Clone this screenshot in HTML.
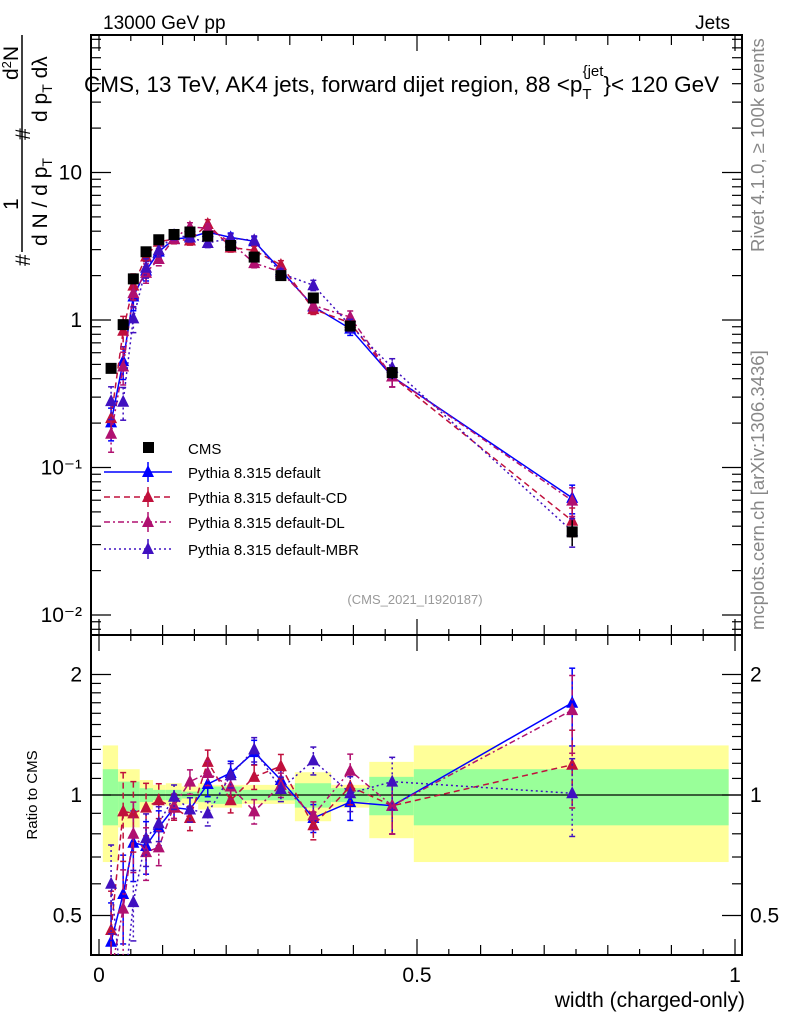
<!DOCTYPE html>
<html><head><meta charset="utf-8"><style>
html,body{margin:0;padding:0;background:#fff;}
svg{display:block;font-family:"Liberation Sans",Arial,sans-serif;}
</style></head><body>
<svg id="c" width="786" height="1024" viewBox="0 0 786 1024">
<g id="bands"></g>
<g id="grid"></g>
<g id="series"></g>
<text x="103" y="29" font-size="19">13000 GeV pp</text>
<text x="730" y="29" font-size="19" text-anchor="end">Jets</text>
<text x="84" y="92" font-size="22.5">CMS, 13 TeV, AK4 jets, forward dijet region, 88 &lt;p<tspan font-size="15" dy="7">T</tspan><tspan font-size="15" dx="-9" dy="-23">{jet</tspan><tspan dy="16">}&lt; 120 GeV</tspan></text>
<text x="415" y="604" font-size="13" fill="#999" text-anchor="middle">(CMS_2021_I1920187)</text>
<text transform="translate(764,252) rotate(-90)" font-size="18.5" fill="#888">Rivet 4.1.0, ≥ 100k events</text>
<text transform="translate(764,630) rotate(-90)" font-size="18.5" fill="#888">mcplots.cern.ch [arXiv:1306.3436]</text>
<text transform="translate(37,955) rotate(-90)" font-size="15" text-anchor="middle"><tspan x="160">Ratio to CMS</tspan></text>
<text x="745" y="1007" font-size="21" text-anchor="end">width (charged-only)</text>
<g font-size="21">
<line x1="22" y1="35" x2="22" y2="252" stroke="#000" stroke-width="1.5"/>
<text transform="translate(30,266) rotate(-90)">#</text>
<text transform="translate(18,210) rotate(-90)">1</text>
<text transform="translate(47,246) rotate(-90)">d N / d p<tspan font-size="14" dy="5">T</tspan></text>
<text transform="translate(30,140) rotate(-90)">#</text>
<text transform="translate(18,80) rotate(-90)">d<tspan font-size="13" dy="-7">2</tspan><tspan dy="7">N</tspan></text>
<text transform="translate(47,122) rotate(-90)">d p<tspan font-size="14" dy="5">T</tspan><tspan dy="-5"> dλ</tspan></text>
</g>
<g id="legend"></g>
</svg>
<script>
const xs = [0.019,0.038,0.054,0.074,0.094,0.118,0.143,0.171,0.207,0.244,0.286,0.337,0.395,0.461,0.744];
const cmsVals = [0.47,0.93,1.9,2.9,3.5,3.8,3.95,3.7,3.2,2.67,2.0,1.41,0.91,0.44,0.0366];
const cmsErr = [0.05,0.05,0.05,0.05,0.05,0.05,0.05,0.05,0.05,0.05,0.05,0.05,0.06,0.1,0.2];
const ratioDefault = [0.43,0.566,0.76,0.746,0.83,0.93,0.92,1.065,1.135,1.28,1.09,0.876,0.96,0.94,1.70];
const ratioCD = [0.46,0.91,0.9,0.93,0.97,0.93,0.876,1.21,0.97,1.11,1.18,0.84,1.05,0.94,1.19];
const ratioDL = [0.36,0.52,0.8,0.72,0.74,0.94,1.08,1.135,1.05,0.91,1.06,0.89,1.15,0.94,1.63];
const ratioMBR = [0.6,0.3,0.54,0.78,0.85,0.99,0.92,0.9,1.12,1.3,1.035,1.22,1.01,1.08,1.01];
const modelErr = [0.25,0.25,0.2,0.15,0.1,0.07,0.07,0.07,0.07,0.07,0.07,0.08,0.1,0.15,0.22];
const bandEdges = [0.006,0.03,0.064,0.085,0.105,0.13,0.156,0.176,0.225,0.308,0.365,0.425,0.495,0.99];
const bandYellowHi = [1.33,1.16,1.09,1.06,1.07,1.05,1.07,1.06,1.06,1.14,1.06,1.21,1.33];
const bandYellowLo = [0.68,0.83,0.92,0.95,0.94,0.95,0.92,0.93,0.95,0.86,0.93,0.78,0.68];
const bandGreenHi = [1.16,1.08,1.04,1.03,1.03,1.02,1.04,1.05,1.03,1.07,1.04,1.11,1.16];
const bandGreenLo = [0.84,0.91,0.96,0.97,0.97,0.98,0.96,0.95,0.97,0.93,0.96,0.89,0.84];
const mainTicks = [["10⁻²",0.01],["10⁻¹",0.1],["1",1],["10",10]];
const ratioTicks = [["0.5",0.5],["1",1],["2",2]];
const xTicks = [["0",0],["0.5",0.5],["1",1]];

const NS="http://www.w3.org/2000/svg";
const L=91,R=742,MT=35,MB=635,RB=955;
const X=v=>99+v*636;
const Y=v=>320-Math.log10(v)*147.5;
const RY=v=>795-Math.log2(v)*120.5;
function mk(p,tag,a){const e=document.createElementNS(NS,tag);for(const k in a)e.setAttribute(k,a[k]);p.appendChild(e);return e;}
const G=document.getElementById('grid'),B=document.getElementById('bands'),S=document.getElementById('series'),LG=document.getElementById('legend');

for(let i=0;i<bandYellowHi.length;i++){
  const x0=X(bandEdges[i]),x1=X(bandEdges[i+1]);
  let r=mk(B,'rect',{x:x0,y:RY(bandYellowHi[i]),width:x1-x0,height:RY(bandYellowLo[i])-RY(bandYellowHi[i]),fill:'#ffff99'});
  
  
  let g=mk(B,'rect',{x:x0,y:RY(bandGreenHi[i]),width:x1-x0,height:RY(bandGreenLo[i])-RY(bandGreenHi[i]),fill:'#99ff99'});
  
  
}
mk(G,'line',{x1:L,x2:R,y1:RY(1),y2:RY(1),stroke:'#000','stroke-width':1.2});
mk(G,'rect',{x:L,y:MT,width:R-L,height:MB-MT,fill:'none',stroke:'#000','stroke-width':2});
mk(G,'rect',{x:L,y:MB,width:R-L,height:RB-MB,fill:'none',stroke:'#000','stroke-width':2});
for(let k=0;k<=20;k++){const v=k*0.05,x=X(v);const len=k%10==0?16:(k%2==0?10:6);
  [[MT,1],[MB,-1],[MB,1],[RB,-1]].forEach(([y,d])=>mk(G,'line',{x1:x,x2:x,y1:y,y2:y+d*len,stroke:'#000','stroke-width':1.2}));}
xTicks.forEach(([t,v])=>{const e=mk(G,'text',{x:X(v),y:982,'font-size':21,'text-anchor':'middle'});e.textContent=t;
  
  });
for(let d=-3;d<=1;d++)for(let m=1;m<=9;m++){const v=m*Math.pow(10,d),y=Y(v);if(y<MT||y>MB)continue;const len=m==1?20:10;
  mk(G,'line',{x1:L,x2:L+len,y1:y,y2:y,stroke:'#000','stroke-width':1.2});
  mk(G,'line',{x1:R,x2:R-len,y1:y,y2:y,stroke:'#000','stroke-width':1.2});}
mainTicks.forEach(([t,v])=>{const e=mk(G,'text',{x:82,y:Y(v)+7,'font-size':21,'text-anchor':'end'});e.textContent=t;
  
  });
[0.5,0.6,0.7,0.8,0.9,1,1.1,1.2,1.3,1.4,1.5,1.6,1.7,1.8,1.9,2].forEach(v=>{const y=RY(v);const len=(v==0.5||v==1||v==2)?20:10;
  mk(G,'line',{x1:L,x2:L+len,y1:y,y2:y,stroke:'#000','stroke-width':1.2});
  mk(G,'line',{x1:R,x2:R-len,y1:y,y2:y,stroke:'#000','stroke-width':1.2});});
ratioTicks.forEach(([t,v])=>{let e=mk(G,'text',{x:82,y:RY(v)+7,'font-size':21,'text-anchor':'end'});e.textContent=t;
  
  
  e=mk(G,'text',{x:750,y:RY(v)+7,'font-size':21});e.textContent=t;
  
  });

const clipM=mk(S,'clipPath',{id:'cm'});mk(clipM,'rect',{x:L,y:MT,width:R-L,height:MB-MT});
const clipR=mk(S,'clipPath',{id:'cr'});mk(clipR,'rect',{x:L,y:MB,width:R-L,height:RB-MB});
const models=[
 {name:'Pythia 8.315 default',r:ratioDefault,c:'#0000ff',dash:''},
 {name:'Pythia 8.315 default-CD',r:ratioCD,c:'#c0103c',dash:'6,4'},
 {name:'Pythia 8.315 default-DL',r:ratioDL,c:'#b01070',dash:'6,3,2,3'},
 {name:'Pythia 8.315 default-MBR',r:ratioMBR,c:'#4010c0',dash:'2,3'}];
function tri(g,x,y,c){mk(g,'polygon',{points:`${x},${y-7} ${x-6},${y+5} ${x+6},${y+5}`,fill:c});}
models.forEach((m,mi)=>{
  const gm=mk(S,'g',{'clip-path':'url(#cm)'});
  
  
  const gr=mk(S,'g',{'clip-path':'url(#cr)'});
  
  
  const vals=xs.map((x,i)=>cmsVals[i]*m.r[i]);
  mk(gm,'polyline',{points:xs.map((x,i)=>X(x)+','+Y(vals[i])).join(' '),fill:'none',stroke:m.c,'stroke-width':1.5,'stroke-dasharray':m.dash});
  mk(gr,'polyline',{points:xs.map((x,i)=>X(x)+','+RY(m.r[i])).join(' '),fill:'none',stroke:m.c,'stroke-width':1.5,'stroke-dasharray':m.dash});
  xs.forEach((x,i)=>{const px=X(x),e=modelErr[i];
    [[gm,Y,vals[i]],[gr,RY,m.r[i]]].forEach(([g,f,v])=>{
      const y1=f(v*(1+e)),y2=f(Math.max(v*(1-e),1e-4));
      mk(g,'line',{x1:px,x2:px,y1:y1,y2:y2,stroke:m.c,'stroke-width':1.5,'stroke-dasharray':m.dash});
      mk(g,'line',{x1:px-3,x2:px+3,y1:y1,y2:y1,stroke:m.c,'stroke-width':1.5});
      mk(g,'line',{x1:px-3,x2:px+3,y1:y2,y2:y2,stroke:m.c,'stroke-width':1.5});
      tri(g,px,f(v),m.c);});
  });
});
const gc=mk(S,'g',{'clip-path':'url(#cm)'});


xs.forEach((x,i)=>{const px=X(x),py=Y(cmsVals[i]);
  mk(gc,'line',{x1:px,x2:px,y1:Y(cmsVals[i]*(1+cmsErr[i])),y2:Y(cmsVals[i]*(1-cmsErr[i])),stroke:'#000','stroke-width':1.5});
  const r=mk(gc,'rect',{x:px-5.5,y:py-5.5,width:11,height:11,fill:'#000'});
  
  });
const ly=[448,472,497,522,549];
mk(LG,'rect',{x:143,y:ly[0]-6,width:11,height:11,fill:'#000'});
let t=mk(LG,'text',{x:188,y:ly[0]+6,'font-size':15});t.textContent='CMS';


models.forEach((m,i)=>{const y=ly[i+1];
  mk(LG,'line',{x1:104,x2:172,y1:y,y2:y,stroke:m.c,'stroke-width':1.5,'stroke-dasharray':m.dash});
  mk(LG,'line',{x1:148,x2:148,y1:y-10,y2:y+10,stroke:m.c,'stroke-width':1.5});
  tri(LG,148,y,m.c);
  const e=mk(LG,'text',{x:188,y:y+6,'font-size':15});e.textContent=m.name;
  
  });
</script>
</body></html>
